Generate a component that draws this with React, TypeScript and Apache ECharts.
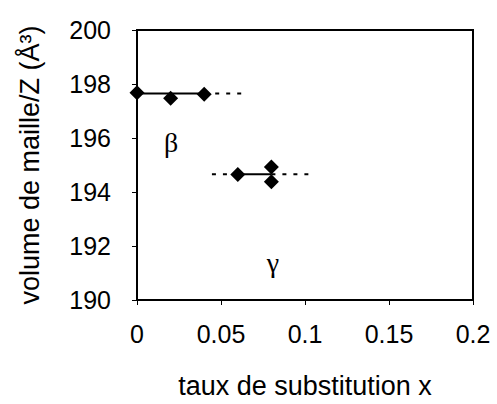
import React, { useEffect, useRef } from "react";
import * as echarts from "echarts";

const betaX = [0, 0.02, 0.04];
const betaY = [197.68, 197.47, 197.62];
const gammaX = [0.06, 0.08, 0.08];
const gammaY = [194.65, 194.93, 194.38];

const betaFit = 197.645;
const betaSolid = [0, 0.04];
const betaDash = [0.04, 0.063];

const gammaFit = 194.66;
const gammaDashLeft = [0.0446, 0.06];
const gammaSolid = [0.06, 0.08];
const gammaDashRight = [0.08, 0.102];

const xTicks = [0, 0.05, 0.1, 0.15, 0.2];
const yTicks = [190, 192, 194, 196, 198, 200];

const seg = (xs: number[], y: number) => xs.map((x) => [x, y]);

export default function App() {
  const ref = useRef<HTMLDivElement>(null);
  useEffect(() => {
    const chart = echarts.init(ref.current!, null, { renderer: "svg" });
    const sans = "Liberation Sans, Arial, sans-serif";
    const lineSeries = (data: number[][], type: string) => ({
      type: "line",
      data,
      symbol: "none",
      lineStyle: { color: "#000", width: 2, type: type === "dash" ? [4, 7] : "solid" },
      z: 2,
    });
    chart.setOption({
      animation: false,
      backgroundColor: "#fff",
      grid: {
        left: 137,
        right: 24,
        top: 30,
        bottom: 101,
        show: true,
        borderColor: "#000",
        borderWidth: 2,
      },
      xAxis: {
        type: "value",
        min: xTicks[0],
        max: xTicks[xTicks.length - 1],
        interval: 0.05,
        name: "taux de substitution x",
        nameLocation: "middle",
        nameGap: 72,
        nameTextStyle: { fontFamily: sans, fontSize: 27, color: "#000" },
        axisLine: { lineStyle: { color: "#000", width: 2 } },
        axisTick: { show: true, length: 5, lineStyle: { color: "#000" } },
        axisLabel: {
          fontFamily: sans,
          fontSize: 25,
          color: "#000",
          margin: 21,
          formatter: (v: number) => String(parseFloat(v.toFixed(2))),
        },
        splitLine: { show: false },
      },
      yAxis: {
        type: "value",
        min: yTicks[0],
        max: yTicks[yTicks.length - 1],
        interval: 2,
        name: "volume de maille/Z (Å³)",
        nameLocation: "middle",
        nameGap: 94,
        nameTextStyle: { fontFamily: sans, fontSize: 27, color: "#000" },
        axisLine: { lineStyle: { color: "#000", width: 2 } },
        axisTick: { show: true, length: 5, lineStyle: { color: "#000" } },
        axisLabel: { fontFamily: sans, fontSize: 25, color: "#000", margin: 26 },
        splitLine: { show: false },
      },
      graphic: [
        {
          type: "text",
          x: 171,
          y: 142,
          style: {
            text: "β",
            font: "28px 'Liberation Serif', serif",
            fill: "#000",
            align: "center",
            verticalAlign: "middle",
          },
        },
        {
          type: "text",
          x: 273,
          y: 262,
          style: {
            text: "γ",
            font: "28px 'Liberation Serif', serif",
            fill: "#000",
            align: "center",
            verticalAlign: "middle",
          },
        },
      ],
      series: [
        lineSeries(seg(betaSolid, betaFit), "solid"),
        lineSeries(seg(betaDash, betaFit), "dash"),
        lineSeries(seg(gammaDashLeft, gammaFit), "dash"),
        lineSeries(seg(gammaSolid, gammaFit), "solid"),
        lineSeries(seg(gammaDashRight, gammaFit), "dash"),
        {
          type: "scatter",
          symbol: "diamond",
          symbolSize: 15,
          itemStyle: { color: "#000", opacity: 1 },
          data: betaX.map((x, i) => [x, betaY[i]]),
          z: 3,
        },
        {
          type: "scatter",
          symbol: "diamond",
          symbolSize: 15,
          itemStyle: { color: "#000", opacity: 1 },
          data: gammaX.map((x, i) => [x, gammaY[i]]),
          z: 3,
        },
      ],
    });
    return () => chart.dispose();
  }, []);
  return <div ref={ref} style={{ width: 497, height: 404, position: "absolute", left: 0, top: 0 }} />;
}
